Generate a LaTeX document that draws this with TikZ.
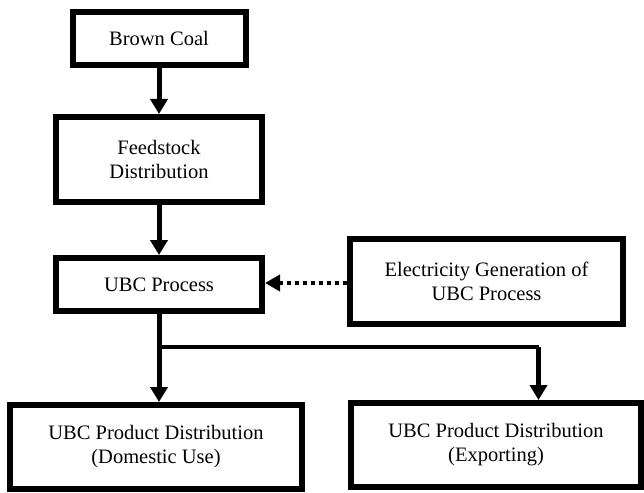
\documentclass[tikz,border=0pt]{standalone}
\usepackage{fontspec}
\setmainfont{Liberation Serif}
\usetikzlibrary{arrows.meta}
\begin{document}
\begin{tikzpicture}[x=1pt,y=-1pt,
  box/.style={draw=black, line width=6pt, rectangle, align=center, fill=white,
    font=\fontsize{20.5}{24}\selectfont, inner sep=0pt},
  arr/.style={line width=5pt, -{Triangle[width=17pt,length=15pt]}},
  dotarr/.style={line width=4.5pt, dash pattern=on 4.5pt off 3.5pt, -{Triangle[width=16pt,length=15pt]}},
  branch/.style={line width=4.5pt, line join=miter}]
\useasboundingbox (0,0) rectangle (644,492);
\node[box, minimum width=173pt, minimum height=53pt] (bc) at (159,38.5) {Brown Coal};
\node[box, minimum width=206pt, minimum height=85pt] (fd) at (159,159.5) {Feedstock\\Distribution};
\node[box, minimum width=206pt, minimum height=53pt] (ubc) at (159,284.5) {UBC Process};
\node[box, minimum width=273pt, minimum height=85pt] (el) at (486.5,281.5) {Electricity Generation of\\UBC Process};
\node[box, minimum width=292pt, minimum height=84pt] (dom) at (156,447) {UBC Product Distribution\\(Domestic Use)};
\node[box, minimum width=290pt, minimum height=84pt] (exp) at (496,445) {UBC Product Distribution\\(Exporting)};
\coordinate (br) at (159,347);
\coordinate (bt) at (538.5,347);
\draw[arr] (bc.south) -- (bc.south |- fd.north);
\draw[arr] (fd.south) -- (fd.south |- ubc.north);
\draw[dotarr] (el.west |- 0,283) -- (ubc.east |- 0,283);
\draw[arr] (ubc.south) -- (ubc.south |- dom.north);
\draw[branch] (br) -- (bt);
\draw[arr] (bt) -- (bt |- exp.north);
\end{tikzpicture}
\end{document}
